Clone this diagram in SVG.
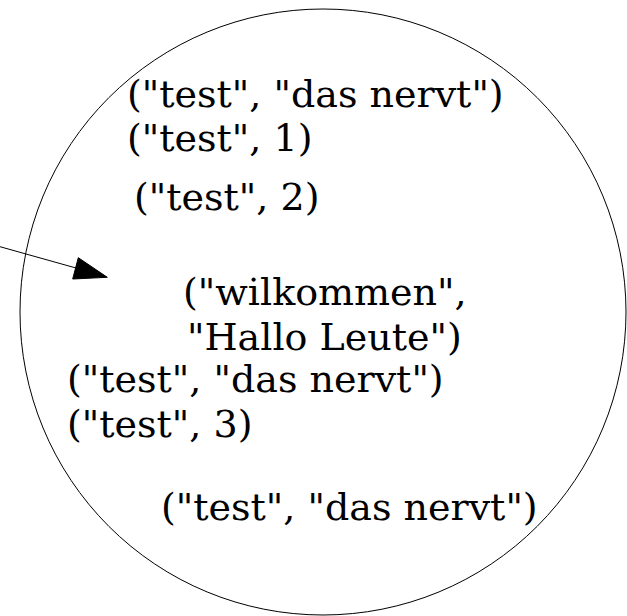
<svg xmlns="http://www.w3.org/2000/svg" width="627" height="616" viewBox="0 0 627 616">
<style>
.lbl{font-family:"DejaVu Serif",serif;font-size:38px;fill:#000}
</style>
<rect width="627" height="616" fill="#fff"/>
<g id="connectors">
<line x1="0" y1="246.7" x2="76" y2="268" stroke="#000" stroke-width="1"/>
<polygon points="78.3,257.7 107.3,277.3 72.7,279" fill="#000" stroke="#000" stroke-width="1"/>
</g>
<g id="node">
<circle cx="323" cy="312" r="303" fill="none" stroke="#000" stroke-width="1"/>
<text class="lbl" x="127" y="106.5">("test", "das nervt")</text>
<text class="lbl" x="127" y="151">("test", 1)</text>
<text class="lbl" x="134" y="210">("test", 2)</text>
<text class="lbl" x="183" y="305">("wilkommen",</text>
<text class="lbl" x="187" y="350"> "Hallo Leute")</text>
<text class="lbl" x="67" y="392">("test", "das nervt")</text>
<text class="lbl" x="67" y="437">("test", 3)</text>
<text class="lbl" x="161" y="520">("test", "das nervt")</text>
</g>
</svg>
